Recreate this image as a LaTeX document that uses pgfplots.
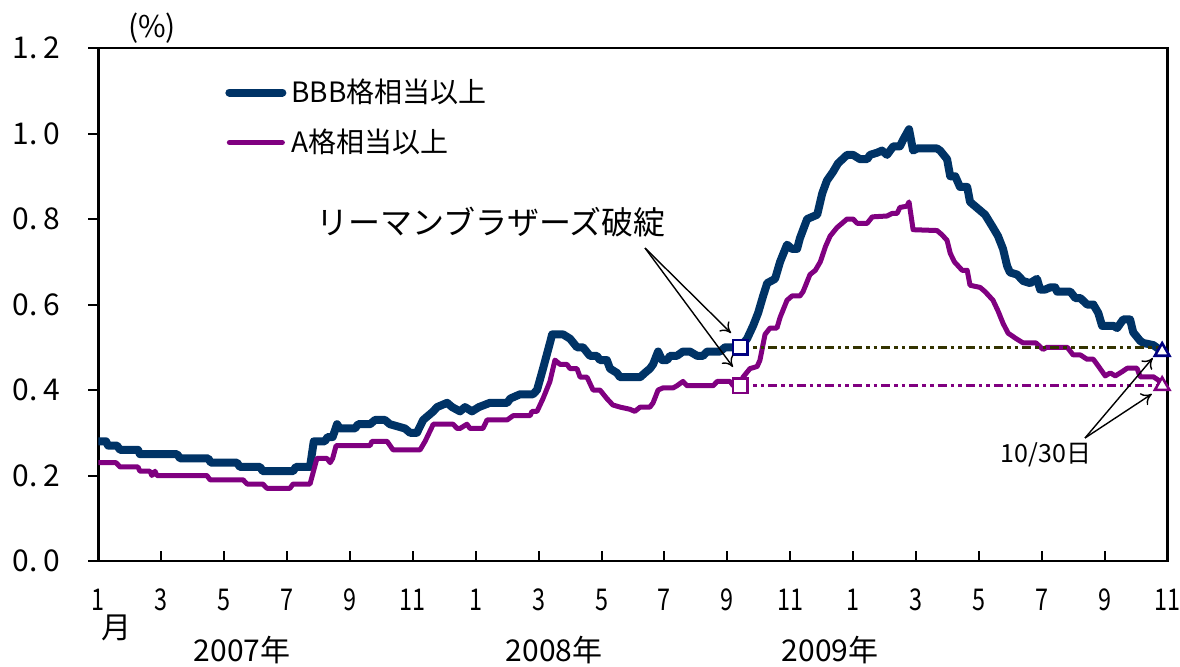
\documentclass[border=0pt]{standalone}
\usepackage{fontspec}
\setmainfont{Noto Sans CJK JP}
\usepackage{pgfplots}
\pgfplotsset{compat=1.18}
\usetikzlibrary{arrows.meta}
\definecolor{bbb}{RGB}{0,51,102}
\definecolor{aa}{RGB}{128,0,128}
\definecolor{navym}{RGB}{0,0,128}
\definecolor{olivez}{RGB}{51,51,0}
\newcommand\fs{\fontsize{15pt}{18pt}\selectfont}
\newcommand\nl[1]{\scalebox{0.78}[1]{#1}}
\begin{document}
\begin{tikzpicture}
\path[use as bounding box] (-49.2pt,-52.5pt) rectangle (540.8pt,280.5pt);
\begin{axis}[
  scale only axis, width=534.55pt, height=256.5pt,
  at={(0pt,0pt)}, anchor=south west,
  xmin=0, xmax=34, ymin=0, ymax=1.2,
  axis line style={line width=1.2pt, black},
  xtick={0,2,...,34},
  xticklabels={\nl{1},\nl{3},\nl{5},\nl{7},\nl{9},\nl{11},\nl{1},\nl{3},\nl{5},\nl{7},\nl{9},\nl{11},\nl{1},\nl{3},\nl{5},\nl{7},\nl{9},\nl{11}},
  ytick={0,0.2,0.4,0.6,0.8,1.0,1.2},
  yticklabels={0.\kern.2em0,0.\kern.2em2,0.\kern.2em4,0.\kern.2em6,0.\kern.2em8,1.\kern.2em0,1.\kern.2em2},
  xtick align=inside, ytick align=outside,
  major tick length=5pt,
  tick style={line width=1pt, black},
  xtick pos=bottom, ytick pos=left,
  ticklabel style={font=\fs},
  yticklabel style={anchor=east, inner sep=0pt, xshift=-14pt},
  xticklabel style={anchor=base, inner sep=0pt, yshift=-24.5pt},
  legend cell align=left,
  legend style={draw=none, fill=none, inner sep=0pt, row sep=13pt, column sep=2.5pt,
    nodes={inner sep=0pt, font=\fontsize{14pt}{16pt}\selectfont, text height=11pt, text depth=1pt},
    at={(axis description cs:0.1184,0.8645)}, anchor=west},
  legend image code/.code={\draw[#1] (0pt,0pt) -- (26.5pt,0pt);},
]
\addplot[color=bbb, line width=4pt, line join=round, line cap=round] coordinates {
(0,0.28) (0.24,0.28) (0.31,0.27) (0.59,0.27) (0.69,0.26) (1.26,0.26) (1.32,0.25) (2.50,0.25) (2.60,0.24) (3.49,0.24) (3.58,0.23) (4.41,0.23) (4.50,0.22) (5.14,0.22) (5.23,0.21) (6.19,0.21) (6.28,0.22) (6.73,0.22) (6.85,0.28) (7.20,0.28) (7.29,0.29) (7.45,0.29) (7.59,0.32) (7.68,0.31) (8.16,0.31) (8.26,0.32) (8.64,0.32) (8.80,0.33) (9.11,0.33) (9.27,0.32) (9.75,0.31) (9.91,0.30) (10.13,0.30) (10.33,0.33) (10.65,0.35) (10.77,0.36) (11.09,0.37) (11.25,0.36) (11.50,0.35) (11.66,0.36) (11.88,0.35) (12.10,0.36) (12.45,0.37) (13.00,0.37) (13.10,0.38) (13.41,0.39) (13.82,0.39) (13.95,0.40) (14.14,0.45) (14.36,0.51) (14.43,0.53) (14.78,0.53) (15.00,0.52) (15.22,0.50) (15.41,0.50) (15.63,0.48) (15.85,0.48) (15.95,0.47) (16.17,0.47) (16.27,0.45) (16.49,0.44) (16.59,0.43) (17.23,0.43) (17.38,0.44) (17.54,0.45) (17.64,0.46) (17.80,0.49) (17.93,0.47) (18.09,0.47) (18.18,0.48) (18.40,0.48) (18.59,0.49) (18.81,0.49) (19.04,0.48) (19.23,0.48) (19.36,0.49) (19.77,0.49) (19.93,0.50) (20.41,0.50) (20.63,0.52) (20.82,0.55) (20.98,0.58) (21.14,0.62) (21.27,0.65) (21.52,0.66) (21.68,0.70) (21.90,0.74) (22.06,0.73) (22.22,0.73) (22.31,0.755) (22.54,0.80) (22.86,0.81) (23.02,0.86) (23.17,0.89) (23.36,0.91) (23.52,0.93) (23.81,0.95) (24.00,0.95) (24.22,0.94) (24.45,0.94) (24.54,0.95) (24.76,0.955) (24.92,0.96) (25.08,0.95) (25.28,0.97) (25.49,0.97) (25.59,0.985) (25.78,1.01) (25.91,0.96) (26.04,0.965) (26.67,0.965) (26.77,0.96) (26.99,0.94) (27.09,0.90) (27.25,0.90) (27.40,0.875) (27.63,0.875) (27.72,0.84) (28.04,0.82) (28.20,0.81) (28.45,0.78) (28.61,0.76) (28.77,0.73) (28.90,0.69) (28.99,0.675) (29.22,0.67) (29.41,0.655) (29.63,0.65) (29.85,0.66) (29.95,0.635) (30.11,0.635) (30.27,0.64) (30.43,0.64) (30.49,0.63) (30.91,0.63) (31.07,0.615) (31.23,0.615) (31.44,0.60) (31.64,0.60) (31.80,0.58) (31.92,0.55) (32.28,0.55) (32.40,0.545) (32.59,0.565) (32.81,0.565) (32.91,0.535) (33.13,0.515) (33.23,0.51) (33.55,0.505) (33.83,0.49)
};
\addlegendentry{BBB格相当以上}
\addplot[color=aa, line width=2.5pt, line join=round, line cap=round] coordinates {
(0,0.23) (0.56,0.23) (0.69,0.22) (1.26,0.22) (1.32,0.21) (1.64,0.21) (1.70,0.20) (1.80,0.21) (1.86,0.20) (3.45,0.20) (3.55,0.19) (4.60,0.19) (4.73,0.18) (5.23,0.18) (5.36,0.17) (6.09,0.17) (6.19,0.18) (6.73,0.18) (6.95,0.24) (7.27,0.24) (7.37,0.23) (7.45,0.24) (7.56,0.27) (8.64,0.27) (8.70,0.28) (9.18,0.28) (9.37,0.26) (10.23,0.26) (10.39,0.28) (10.65,0.32) (11.28,0.32) (11.41,0.31) (11.50,0.31) (11.72,0.32) (11.82,0.31) (12.23,0.31) (12.36,0.33) (13.00,0.33) (13.19,0.34) (13.73,0.34) (13.79,0.35) (13.95,0.35) (14.14,0.38) (14.36,0.42) (14.52,0.47) (14.68,0.46) (14.90,0.46) (15.00,0.45) (15.22,0.45) (15.32,0.43) (15.54,0.43) (15.73,0.40) (15.95,0.40) (16.17,0.38) (16.36,0.365) (16.59,0.36) (16.90,0.355) (17.06,0.35) (17.23,0.36) (17.54,0.36) (17.64,0.37) (17.80,0.40) (17.96,0.405) (18.28,0.405) (18.40,0.41) (18.59,0.42) (18.72,0.41) (19.55,0.41) (19.68,0.42) (20.09,0.42) (20.19,0.41) (20.41,0.41) (20.50,0.43) (20.72,0.45) (20.95,0.455) (21.04,0.47) (21.20,0.53) (21.36,0.545) (21.58,0.545) (21.68,0.57) (21.90,0.61) (22.06,0.62) (22.31,0.62) (22.41,0.63) (22.63,0.67) (22.80,0.68) (22.96,0.70) (23.12,0.735) (23.27,0.76) (23.49,0.78) (23.81,0.80) (24.00,0.80) (24.13,0.79) (24.45,0.79) (24.61,0.805) (25.08,0.807) (25.24,0.813) (25.40,0.813) (25.49,0.827) (25.71,0.83) (25.78,0.84) (25.91,0.775) (26.67,0.773) (26.83,0.763) (26.99,0.75) (27.09,0.72) (27.22,0.70) (27.47,0.68) (27.63,0.68) (27.72,0.645) (28.04,0.64) (28.20,0.63) (28.45,0.61) (28.61,0.585) (28.77,0.556) (28.93,0.533) (29.19,0.52) (29.41,0.51) (29.82,0.51) (30.04,0.495) (30.17,0.50) (30.81,0.50) (31.00,0.482) (31.23,0.482) (31.44,0.472) (31.64,0.472) (31.80,0.456) (32.02,0.433) (32.18,0.44) (32.34,0.433) (32.56,0.443) (32.72,0.451) (33.03,0.451) (33.13,0.431) (33.55,0.431) (33.71,0.423) (33.83,0.41)
};
\addlegendentry{A格相当以上}
\addplot[forget plot, color=olivez, line width=1.5pt, dash pattern=on 4.5pt off 2pt on 1.8pt off 2pt on 1.8pt off 2pt] coordinates {(20.41,0.50) (33.83,0.50)};
\addplot[forget plot, color=aa, line width=1.5pt, dash pattern=on 4.5pt off 2pt on 1.8pt off 2pt on 1.8pt off 2pt] coordinates {(20.41,0.41) (33.83,0.41)};
\addplot[forget plot, only marks, mark=square*, mark size=3.6pt, mark options={fill=white, draw=navym, line width=1.3pt}] coordinates {(20.41,0.50)};
\addplot[forget plot, only marks, mark=square*, mark size=3.6pt, mark options={fill=white, draw=aa, line width=1.3pt}] coordinates {(20.41,0.41)};
\addplot[forget plot, only marks, mark=triangle*, mark size=4.2pt, mark options={fill=white, draw=navym, line width=1.3pt}] coordinates {(33.83,0.49)};
\addplot[forget plot, only marks, mark=triangle*, mark size=4.2pt, mark options={fill=white, draw=aa, line width=1.3pt}] coordinates {(33.83,0.41)};
\end{axis}
\node[font=\fs] at (26.8pt,266.5pt) {(\%)};
\node[font=\fs] at (9.3pt,-33.5pt) {月};
\node[font=\fs] at (71.8pt,-44.5pt) {2007年};
\node[font=\fs] at (227.8pt,-44.5pt) {2008年};
\node[font=\fs] at (365.8pt,-44.5pt) {2009年};
\node[font=\fontsize{16pt}{18pt}\selectfont] at (196.3pt,169.5pt) {リーマンブラザーズ破綻};
\draw[line width=0.7pt, -{To[length=5pt,width=7pt]}] (273.3pt,156.5pt) -- (316.3pt,114pt);
\draw[line width=0.7pt, -{To[length=5pt,width=7pt]}] (273.3pt,156.5pt) -- (317.3pt,97pt);
\node[font=\fontsize{12.5pt}{14pt}\selectfont] at (473.8pt,53pt) {10/30日};
\draw[line width=0.7pt, -{To[length=5pt,width=7pt]}] (493.3pt,61.5pt) -- (527.2pt,101.5pt);
\draw[line width=0.7pt, -{To[length=5pt,width=7pt]}] (493.3pt,61.5pt) -- (526.7pt,83.5pt);
\end{tikzpicture}
\end{document}
